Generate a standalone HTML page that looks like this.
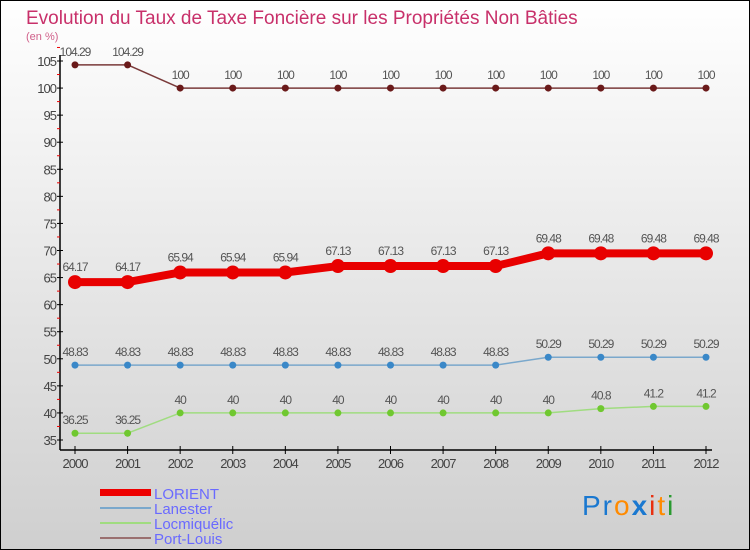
<!DOCTYPE html>
<html><head><meta charset="utf-8"><style>
body{margin:0;width:750px;height:550px;overflow:hidden;font-family:"Liberation Sans",sans-serif}
svg{display:block}
</style></head><body>
<svg id="chart" width="750" height="550" viewBox="0 0 750 550" xmlns="http://www.w3.org/2000/svg">
<defs>
<linearGradient id="bg" x1="0" y1="0" x2="0" y2="1"><stop offset="0" stop-color="#ffffff"/><stop offset="1" stop-color="#cfcfcf"/></linearGradient>
</defs>
<rect x="0.5" y="0.5" width="749" height="549" fill="url(#bg)" stroke="#000"/>
<text x="26" y="24" font-size="19" fill="#c8306a">Evolution du Taux de Taxe Foncière sur les Propriétés Non Bâties</text>
<text x="26" y="40" font-size="11" fill="#d0608a">(en %)</text>
<g id="axes"></g>
<g id="series"></g>
<g id="legend">
<rect x="100" y="489" width="51" height="7" fill="#e00"/>
<text x="154" y="499" font-size="15" fill="#6a6aff">LORIENT</text>
<rect x="100" y="507" width="51" height="2" fill="#7aa8cc"/>
<text x="154" y="514" font-size="15" fill="#6a6aff">Lanester</text>
<rect x="100" y="522" width="51" height="2" fill="#a0dc80"/>
<text x="154" y="529" font-size="15" fill="#6a6aff">Locmiquélic</text>
<rect x="100" y="537" width="51" height="2" fill="#9a7070"/>
<text x="154" y="544" font-size="15" fill="#6a6aff">Port-Louis</text>
</g>
<g font-size="28" letter-spacing="2">
<text x="582" y="515"><tspan fill="#1a78d0">Pr</tspan><tspan fill="#ff8a00">o</tspan><tspan fill="#1a78d0" font-weight="bold">x</tspan><tspan fill="#e83010">i</tspan><tspan fill="#ff8a00">t</tspan><tspan fill="#2a9a30">i</tspan></text>
</g>
</svg>
<script>
const years = [2000,2001,2002,2003,2004,2005,2006,2007,2008,2009,2010,2011,2012];
const yTicks = [35,40,45,50,55,60,65,70,75,80,85,90,95,100,105];
const lorient = [64.17,64.17,65.94,65.94,65.94,67.13,67.13,67.13,67.13,69.48,69.48,69.48,69.48];
const lanester = [48.83,48.83,48.83,48.83,48.83,48.83,48.83,48.83,48.83,50.29,50.29,50.29,50.29];
const locmiquelic = [36.25,36.25,40,40,40,40,40,40,40,40,40.8,41.2,41.2];
const portLouis = [104.29,104.29,100,100,100,100,100,100,100,100,100,100,100];

const NS="http://www.w3.org/2000/svg";
const xScale=i=>75+i*(706-75)/(years.length-1);
const yScale=v=>440-(v-35)*(440-61)/70;
function mk(tag,attrs,parent){const e=document.createElementNS(NS,tag);for(const k in attrs)e.setAttribute(k,attrs[k]);parent.appendChild(e);return e;}
const axes=document.getElementById('axes');
const ax=mk('line',{x1:60,y1:55,x2:60,y2:450,stroke:'#000','stroke-width':1.5},axes);


const bx=mk('line',{x1:60,y1:450,x2:712,y2:450,stroke:'#000','stroke-width':1.5},axes);


yTicks.forEach((v,i)=>{
  const y=yScale(v);
  mk('line',{x1:57,y1:y,x2:63,y2:y,stroke:'#000'},axes);
  mk('line',{x1:57,y1:yScale(v+2.5),x2:60,y2:yScale(v+2.5),stroke:'#e00'},axes);
  const t=mk('text',{x:56,y:y+5,'text-anchor':'end','font-size':13,fill:'#444','letter-spacing':'-1'},axes);
  t.textContent=v;
  
  
});
years.forEach((yr,i)=>{
  const x=xScale(i);
  mk('line',{x1:x,y1:446,x2:x,y2:454,stroke:'#000'},axes);
  const t=mk('text',{x:x,y:468,'text-anchor':'middle','font-size':13,fill:'#444','letter-spacing':'-1'},axes);
  t.textContent=yr;
  
  
});
const sg=document.getElementById('series');
function draw(name,data,color,dot,w,r){
  const g=mk('g',{},sg);
  
  
  const pts=data.map((v,i)=>xScale(i)+','+yScale(v)).join(' ');
  mk('polyline',{points:pts,fill:'none',stroke:color,'stroke-width':w,'stroke-linejoin':'round'},g);
  data.forEach((v,i)=>{
    const c=mk('circle',{cx:xScale(i),cy:yScale(v),r:r,fill:dot},g);
    
    
    const t=mk('text',{x:xScale(i),y:yScale(v)-9-(r>5?2:0),'text-anchor':'middle','font-size':12,fill:'#555','letter-spacing':'-1'},g);
    t.textContent=v;
    
    
  });
}
draw('port-louis',portLouis,'#7a3a3a','#6a1a1a',1.5,3.5);
draw('locmiquelic',locmiquelic,'#a0dc80','#70c830',1.5,3.5);
draw('lanester',lanester,'#7aa8cc','#3a88c8',1.5,3.5);
draw('lorient',lorient,'#e80000','#e80000',8,7);
</script>
</body></html>
